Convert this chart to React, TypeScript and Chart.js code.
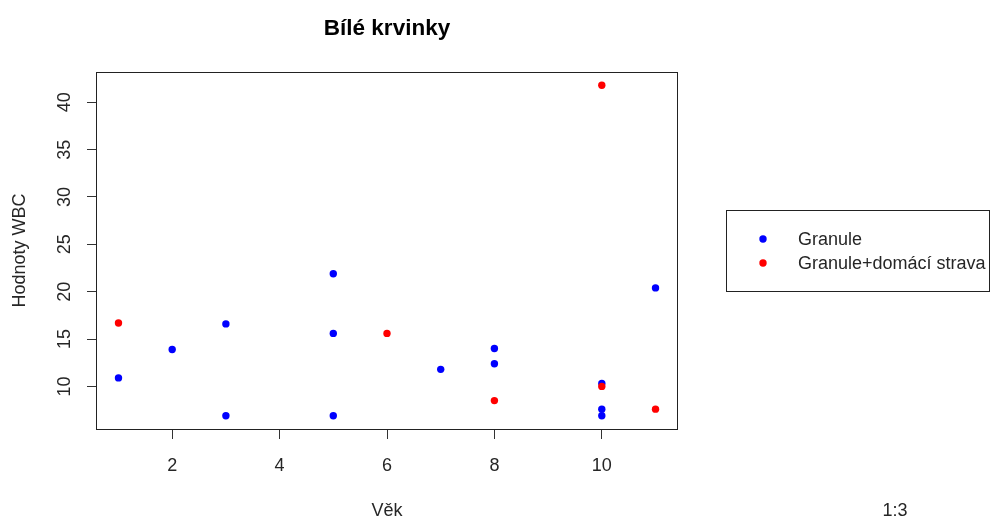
import React, { useEffect, useRef } from "react";
import { Chart, registerables } from "chart.js";

Chart.register(...registerables);

// Věk (age) and WBC values for the two feeding groups
const granuleAge = [1, 2, 3, 3, 5, 5, 5, 7, 8, 8, 10, 10, 10, 11];
const granuleWbc = [10.9, 13.9, 16.6, 6.9, 21.9, 15.6, 6.9, 11.8, 14.0, 12.4, 10.3, 7.6, 6.9, 20.4];
const homeAge = [1, 6, 8, 10, 10, 11];
const homeWbc = [16.7, 15.6, 8.5, 41.8, 10.0, 7.6];

const xTicks = [2, 4, 6, 8, 10];
const yTicks = [10, 15, 20, 25, 30, 35, 40];

const seriesNames = ["Granule", "Granule+domácí strava"];
const seriesColors = ["#0000FF", "#FF0000"];

const titleText = "Bílé krvinky";
const xTitle = "Věk";
const yTitle = "Hodnoty WBC";
const sideLabel = "1:3";

const FONT = "'Liberation Sans', Arial, sans-serif";
const INK = "#262626";

// R-style axis range: data range padded by 4% on each side
function paddedRange(values: number[]) {
  const lo = Math.min(...values);
  const hi = Math.max(...values);
  const pad = (hi - lo) * 0.04;
  return [lo - pad, hi + pad];
}

const decorPlugin = {
  id: "rDecor",
  afterDraw(chart: any) {
    const { ctx, chartArea } = chart;
    const { left, right, top, bottom } = chartArea;
    ctx.save();

    // plot frame
    ctx.strokeStyle = "#222";
    ctx.lineWidth = 1;
    ctx.strokeRect(Math.round(left) - 0.5, Math.round(top) + 0.5, Math.round(right - left) + 1, Math.round(bottom - top));

    // main title
    ctx.fillStyle = "#000";
    ctx.font = `bold 22.5px ${FONT}`;
    ctx.textAlign = "center";
    ctx.textBaseline = "alphabetic";
    ctx.fillText(titleText, (left + right) / 2, 35);

    // axis titles
    ctx.fillStyle = INK;
    ctx.font = `18px ${FONT}`;
    ctx.fillText(xTitle, (left + right) / 2, 516);
    ctx.fillText(sideLabel, 895, 516);

    ctx.save();
    ctx.translate(25, (top + bottom) / 2);
    ctx.rotate(-Math.PI / 2);
    ctx.fillText(yTitle, 0, 0);
    ctx.restore();

    // legend
    const bx = 726, by = 210, bw = 263, bh = 81;
    ctx.strokeStyle = "#222";
    ctx.strokeRect(bx + 0.5, by + 0.5, bw, bh);
    const rows = [239, 263];
    rows.forEach((ry, i) => {
      ctx.fillStyle = seriesColors[i];
      ctx.beginPath();
      ctx.arc(763, ry, 3.7, 0, Math.PI * 2);
      ctx.fill();
      ctx.fillStyle = INK;
      ctx.textAlign = "left";
      ctx.textBaseline = "middle";
      ctx.fillText(seriesNames[i], 798, ry + 1);
    });

    ctx.restore();
  },
};

export default function App() {
  const canvasRef = useRef<HTMLCanvasElement | null>(null);

  useEffect(() => {
    const canvas = canvasRef.current;
    if (!canvas) return;

    const [xMin, xMax] = paddedRange([...granuleAge, ...homeAge]);
    const [yMin, yMax] = paddedRange([...granuleWbc, ...homeWbc]);

    const tickFont = { family: FONT, size: 18 };

    const chart = new Chart(canvas, {
      type: "scatter",
      data: {
        datasets: [
          {
            label: seriesNames[0],
            data: granuleAge.map((x, i) => ({ x, y: granuleWbc[i] })),
            backgroundColor: seriesColors[0],
            borderWidth: 0,
            pointRadius: 3.7,
            order: 1,
          },
          {
            label: seriesNames[1],
            data: homeAge.map((x, i) => ({ x, y: homeWbc[i] })),
            backgroundColor: seriesColors[1],
            borderWidth: 0,
            pointRadius: 3.7,
            order: 0,
          },
        ],
      },
      options: {
        responsive: false,
        animation: false,
        devicePixelRatio: 1,
        layout: { padding: { top: 72, right: 314, left: 0, bottom: 0 } },
        plugins: {
          legend: { display: false },
          title: { display: false },
          tooltip: { enabled: false },
        },
        scales: {
          x: {
            type: "linear",
            min: xMin,
            max: xMax,
            afterBuildTicks: (scale: any) => {
              scale.ticks = xTicks.map((v) => ({ value: v }));
            },
            afterFit: (scale: any) => {
              scale.height = 90;
            },
            border: { display: false },
            grid: { drawOnChartArea: false, drawTicks: true, tickLength: 10, color: "#333", lineWidth: 1 },
            ticks: { font: tickFont, color: INK, padding: 16, autoSkip: false, maxRotation: 0, minRotation: 0 },
          },
          y: {
            type: "linear",
            min: yMin,
            max: yMax,
            afterBuildTicks: (scale: any) => {
              scale.ticks = yTicks.map((v) => ({ value: v }));
            },
            afterFit: (scale: any) => {
              scale.width = 97;
            },
            border: { display: false },
            grid: { drawOnChartArea: false, drawTicks: true, tickLength: 10, color: "#333", lineWidth: 1 },
            ticks: {
              font: tickFont,
              color: INK,
              padding: 12,
              autoSkip: false,
              minRotation: 90,
              maxRotation: 90,
              crossAlign: "center",
            },
          },
        },
      },
      plugins: [decorPlugin],
    });

    return () => chart.destroy();
  }, []);

  return (
    <div style={{ position: "fixed", left: 0, top: 0, width: 991, height: 519, background: "#fff" }}>
      <canvas ref={canvasRef} width={991} height={519} style={{ display: "block", width: 991, height: 519 }} />
    </div>
  );
}
